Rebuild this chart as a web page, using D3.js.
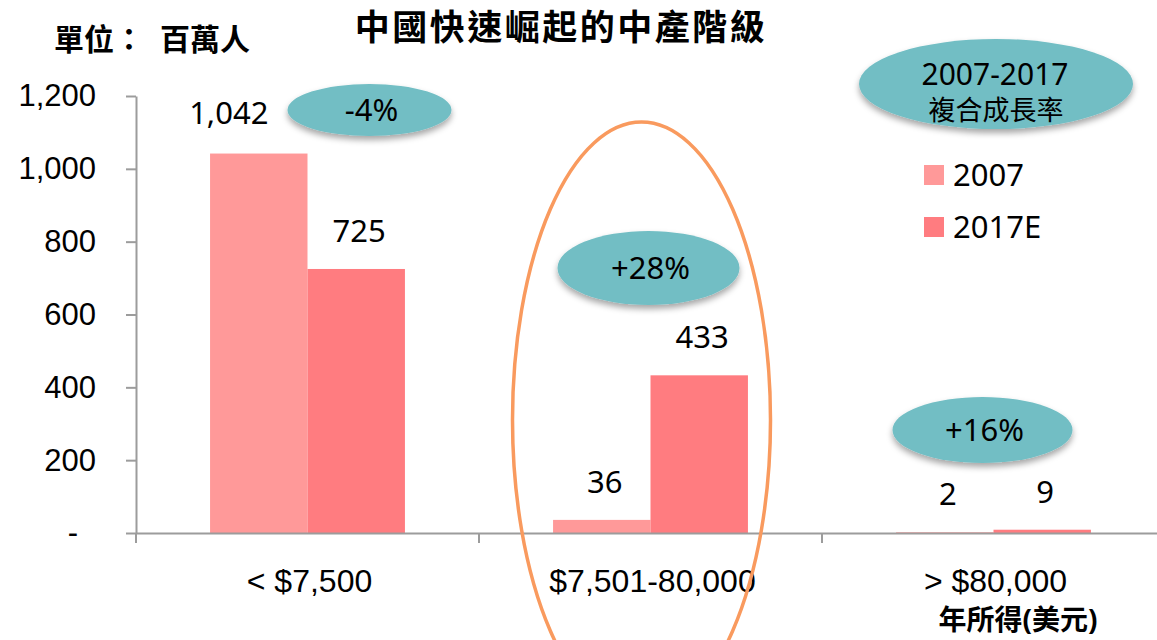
<!DOCTYPE html>
<html>
<head>
<meta charset="utf-8">
<title>中國快速崛起的中產階級</title>
<style>
  body { margin: 0; background: #fff; }
  svg { font-family: "Noto Sans", "Noto Sans CJK TC", sans-serif; }
  .axis path, .axis line { stroke: #9c9c9c; stroke-width: 2px; }
  .axis text { font-size: 31px; fill: #000; }
  .xaxis text { font-size: 32px; }
</style>
</head>
<body>
<svg id="chart" width="1157" height="640"></svg>
<script src="https://d3js.org/d3.v7.min.js"></script>
<script>
// ---- data ----
const categories = ["< $7,500", "$7,501-80,000", "> $80,000"]
const seriesNames = ["2007", "2017E"]
const values2007 = [1042, 36, 2]
const values2017 = [725, 433, 9]
const growthLabels = ["-4%", "+28%", "+16%"]
const yTicks = [0, 200, 400, 600, 800, 1000, 1200]
const colors = ["#FF9999", "#FF7C80"]

// ---- layout ----
const plotLeft = 136, plotRight = 1165, plotBottom = 533, plotTop = 96
const svg = d3.select("#chart")

const defs = svg.append("defs")
const f = defs.append("filter").attr("id", "shadow")
  .attr("x", "-20%").attr("y", "-20%").attr("width", "140%").attr("height", "160%")
f.append("feDropShadow").attr("dx", 0).attr("dy", 4).attr("stdDeviation", 3)
  .attr("flood-color", "#000").attr("flood-opacity", 0.35)

const x = d3.scaleBand().domain(categories).range([plotLeft, plotRight])
const xSub = d3.scaleBand().domain(seriesNames).range([0, x.bandwidth()]).paddingOuter(0.76)
const y = d3.scaleLinear().domain([0, 1200]).range([plotBottom, plotTop])

// y axis
const yAxis = svg.append("g").attr("class", "axis")
  .attr("transform", `translate(${plotLeft},0)`)
  .call(d3.axisLeft(y).tickValues(yTicks).tickSize(10).tickSizeOuter(0).tickPadding(30)
    .tickFormat(d => d === 0 ? "-" : d3.format(",")(d)))
yAxis.selectAll(".tick text").filter(d => d === 0).attr("dx", -18)

// bars
const rows = categories.map((c, i) => ({ cat: c, vals: [values2007[i], values2017[i]] }))
const groups = svg.selectAll(".grp").data(rows).enter().append("g")
  .attr("transform", d => `translate(${x(d.cat)},0)`)
groups.selectAll("rect")
  .data(d => d.vals.map((v, j) => ({ s: seriesNames[j], v, j })))
  .enter().append("rect")
  .attr("x", d => xSub(d.s))
  .attr("width", xSub.bandwidth())
  .attr("y", d => y(d.v))
  .attr("height", d => y(0) - y(d.v))
  .attr("fill", d => colors[d.j])

// value labels
groups.selectAll(".val")
  .data((d, i) => d.vals.map((v, j) => ({ s: seriesNames[j], v, j, i })))
  .enter().append("text")
  .attr("x", d => xSub(d.s) + xSub.bandwidth() / 2 + (d.i === 0 && d.j === 0 ? -30 : 3))
  .attr("y", d => y(d.v) - (d.i === 0 && d.j === 0 ? 30 : 27))
  .attr("text-anchor", "middle")
  .attr("font-size", 31)
  .text(d => d3.format(",")(d.v))

// x axis
const xAxis = svg.append("g").attr("class", "axis xaxis")
  .attr("transform", `translate(0,${plotBottom})`)
  .call(d3.axisBottom(x).tickSize(0).tickPadding(36))
xAxis.selectAll(".tick text").attr("dx", 2)
xAxis.selectAll(".sep").data(categories).enter().append("line")
  .attr("x1", d => x(d)).attr("x2", d => x(d))
  .attr("y1", 0).attr("y2", 10)

// growth bubbles
const bubblePos = [{ dx: 62, cy: 110, rx: 82, ry: 26 },
  { dx: -2, cy: 268, rx: 91, ry: 37 },
  { dx: -11, cy: 430, rx: 90, ry: 33 }]
categories.forEach((c, i) => {
  const cx = x(c) + x.bandwidth() / 2 + bubblePos[i].dx
  svg.append("ellipse").attr("cx", cx).attr("cy", bubblePos[i].cy)
    .attr("rx", bubblePos[i].rx).attr("ry", bubblePos[i].ry)
    .attr("fill", "#72BEC4").attr("filter", "url(#shadow)")
  svg.append("text").attr("x", cx + 2).attr("y", bubblePos[i].cy + 11)
    .attr("text-anchor", "middle").attr("font-size", 31)
    .text(growthLabels[i])
})

// orange highlight ellipse round middle category
svg.append("ellipse")
  .attr("cx", x(categories[1]) + x.bandwidth() / 2 - 9)
  .attr("cy", 420).attr("rx", 129).attr("ry", 298)
  .attr("fill", "none").attr("stroke", "#F99A5E").attr("stroke-width", 3.5)

// legend bubble
svg.append("ellipse").attr("cx", 996).attr("cy", 84).attr("rx", 137).attr("ry", 45)
  .attr("fill", "#72BEC4").attr("filter", "url(#shadow)")
svg.append("text").attr("x", 995).attr("y", 85).attr("text-anchor", "middle")
  .attr("font-size", 30).text("2007-2017")
svg.append("text").attr("x", 996).attr("y", 120).attr("text-anchor", "middle")
  .attr("font-size", 27).text("複合成長率")

// legend
const legend = svg.selectAll(".leg").data(seriesNames).enter().append("g")
  .attr("transform", (d, i) => `translate(924,${165 + i * 52})`)
legend.append("rect").attr("width", 20).attr("height", 20).attr("fill", (d, i) => colors[i])
legend.append("text").attr("x", 29).attr("y", 21).attr("font-size", 31).text(d => d)

// titles
svg.append("text").attr("x", 561).attr("y", 40).attr("text-anchor", "middle")
  .attr("font-size", 35).attr("font-weight", "bold").attr("letter-spacing", 2.5)
  .text("中國快速崛起的中產階級")
svg.append("text").attr("x", 54).attr("y", 50)
  .attr("font-size", 30).attr("font-weight", "bold")
  .text("單位：")
svg.append("text").attr("x", 160).attr("y", 50)
  .attr("font-size", 30).attr("font-weight", "bold")
  .text("百萬人")
svg.append("text").attr("x", 1018).attr("y", 630).attr("text-anchor", "middle")
  .attr("font-size", 28).attr("font-weight", "bold")
  .text("年所得(美元)")
</script>
</body>
</html>
